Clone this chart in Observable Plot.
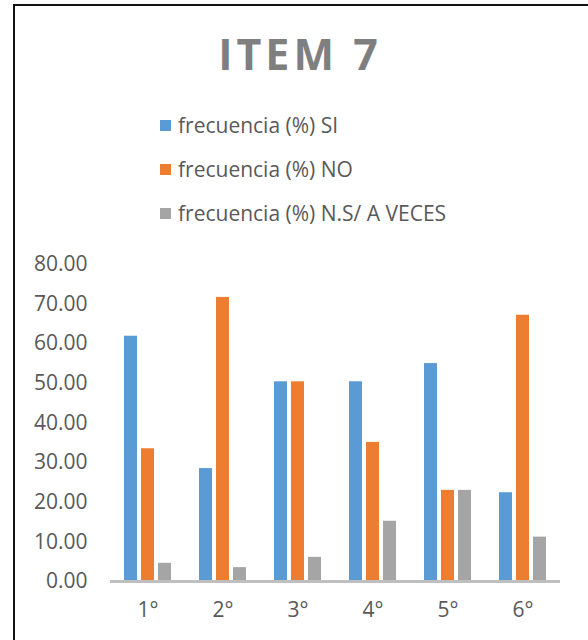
<!DOCTYPE html>
<html>
<head>
<meta charset="utf-8">
<script src="https://cdn.jsdelivr.net/npm/d3@7"></script>
<script src="https://cdn.jsdelivr.net/npm/@observablehq/plot@0.6"></script>
<style>
  html, body { margin: 0; padding: 0; background: #fff; }
  body { width: 588px; height: 640px; position: relative; overflow: hidden; font-family: "Open Sans", sans-serif; }
  #frame { position: absolute; left: 13px; top: 4px; width: 700px; height: 700px; border-left: 2px solid #111; border-top: 2px solid #111; }
  #title { position: absolute; left: 0; width: 600px; top: 32px; text-align: center; font-family: "Open Sans", sans-serif; font-weight: 700; font-size: 43px; letter-spacing: 4px; color: #7f7f7f; line-height: 1; }
  .leg { position: absolute; left: 160px; font-size: 21px; color: #595959; line-height: 1; white-space: nowrap; }
  .leg span.sw { display: inline-block; width: 11px; height: 11px; margin-right: 7px; vertical-align: middle; position: relative; top: -2px; }
  #chart { position: absolute; left: 0; top: 230px; }
</style>
</head>
<body>
<div id="frame"></div>
<div id="title">ITEM 7</div>
<div id="legend"></div>
<div id="chart"></div>
<script>
const grados = ["1°", "2°", "3°", "4°", "5°", "6°"];
const series = ["frecuencia (%) SI", "frecuencia (%) NO", "frecuencia (%) N.S/ A VECES"];
const valoresSI = [61.9, 28.5, 50.4, 50.4, 55.0, 22.4];
const valoresNO = [33.5, 71.7, 50.4, 35.1, 23.0, 67.2];
const valoresNS = [4.6, 3.5, 6.1, 15.2, 23.0, 11.2];
const colores = ["#5b9bd5", "#ed7d31", "#a5a5a5"];
const yTicks = [0, 10, 20, 30, 40, 50, 60, 70, 80];

const data = [];
grados.forEach((g, i) => {
  data.push({grado: g, serie: series[0], valor: valoresSI[i]});
  data.push({grado: g, serie: series[1], valor: valoresNO[i]});
  data.push({grado: g, serie: series[2], valor: valoresNS[i]});
});

// legend
const legend = document.getElementById("legend");
const legTops = [115, 159, 203];
series.forEach((s, i) => {
  const d = document.createElement("div");
  d.className = "leg";
  d.style.top = legTops[i] + "px";
  d.innerHTML = `<span class="sw" style="background:${colores[i]}"></span>${s}`;
  legend.appendChild(d);
});

const chart = Plot.plot({
  width: 588,
  height: 410,
  marginLeft: 108,
  marginRight: 27,
  marginTop: 34,
  marginBottom: 59,
  style: {fontFamily: "Open Sans, sans-serif", fontSize: "21px", color: "#595959", background: "transparent"},
  fx: {domain: grados, padding: 0, label: null},
  x: {domain: series, paddingInner: 0.22, paddingOuter: 0.71, axis: null},
  y: {domain: [0, 80], label: null},
  color: {domain: series, range: colores},
  marks: [
    Plot.barY(data, {fx: "grado", x: "serie", y: "valor", fill: "serie"}),
    Plot.ruleY([0], {stroke: "#bfbfbf", strokeWidth: 3}),
    Plot.axisY({ticks: yTicks, tickFormat: d => d.toFixed(2), tickSize: 0, tickPadding: 23, label: null, fill: "#595959"}),
    Plot.axisFx({anchor: "bottom", tickSize: 0, tickPadding: 21, label: null, fill: "#595959"})
  ]
});
document.getElementById("chart").appendChild(chart);
</script>
</body>
</html>
